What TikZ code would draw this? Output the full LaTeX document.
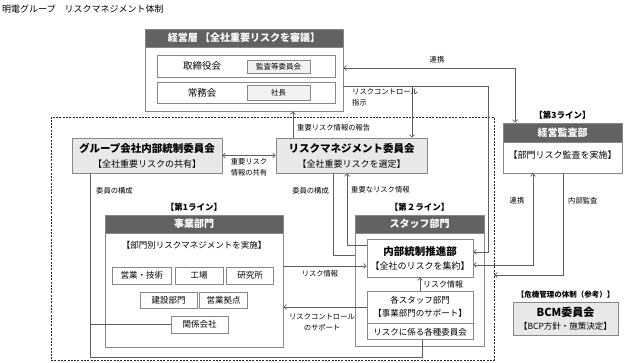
\documentclass[tikz,border=0pt]{standalone}
\usepackage{fontspec}
\setmainfont{Noto Sans CJK JP}
\usetikzlibrary{arrows.meta, positioning}
\definecolor{hdrgray}{RGB}{98,98,98}
\definecolor{boxgray}{RGB}{232,232,232}
\definecolor{subgray}{RGB}{242,242,242}
\definecolor{linegray}{RGB}{95,95,95}
\definecolor{edgegray}{RGB}{135,135,135}

\begin{document}
\begin{tikzpicture}[x=1pt, y=-1pt,
    frame/.style={rectangle, draw=edgegray, fill=white, line width=0.8pt, inner sep=0pt},
    rowbox/.style={rectangle, draw=edgegray, fill=white, line width=0.7pt, inner sep=0pt,
                   minimum width=178pt},
    hdr/.style={rectangle, draw=edgegray, fill=hdrgray, text=white, anchor=north, inner sep=0pt,
                minimum height=18pt, font=\fontsize{10}{12}\selectfont\bfseries},
    comm/.style={rectangle, draw=edgegray, fill=boxgray, line width=0.8pt, align=center,
                 inner sep=0pt, font=\fontsize{9}{15}\selectfont},
    sub/.style={rectangle, draw=edgegray, fill=white, line width=0.6pt, inner sep=0pt,
                minimum height=17pt, font=\fontsize{8.5}{10}\selectfont},
    mini/.style={rectangle, draw=edgegray, fill=subgray, line width=0.6pt, inner sep=0pt,
                 minimum width=63pt, font=\fontsize{7.5}{9}\selectfont},
    dashframe/.style={rectangle, draw=black!85, line width=0.8pt, dash pattern=on 2pt off 1.3pt},
    arrow/.style={-{Straight Barb[length=2.5pt, width=5pt]}, line width=0.7pt, color=linegray},
    biarrow/.style={{Straight Barb[length=2.5pt, width=5pt]}-{Straight Barb[length=2.5pt, width=5pt]},
                    line width=0.7pt, color=linegray},
    link/.style={line width=0.7pt, color=linegray},
    lbl/.style={font=\fontsize{7.3}{11}\selectfont, inner sep=0pt},
    tag/.style={font=\fontsize{8.5}{10}\selectfont\bfseries, inner sep=0pt}
]
\useasboundingbox (0,0) rectangle (624,363);

% --- Title ---
\node[anchor=west, inner sep=0pt, font=\fontsize{9}{10}\selectfont] (title) at (2,9)
    {明電グループ　リスクマネジメント体制};

% --- 1st/2nd line frame ---
\node[dashframe, minimum width=443pt, minimum height=243pt] (lines12) at (272.5,238.5) {};

% --- Management ---
\node[frame, minimum width=198pt, minimum height=82pt] (keiei) at (244,70) {};
\node[hdr, minimum width=198pt] (keieihd) at (keiei.north) {経営層 【全社重要リスクを審議】};
\node[rowbox, minimum height=22pt] (torirow) at (246,66) {};
\node[font=\fontsize{9.5}{10}\selectfont] (torilbl) at (202,66) {取締役会};
\node[mini, minimum height=13pt] (kansa) at (278.5,66.5) {監査等委員会};
\node[rowbox, minimum height=21pt] (jomurow) at (246,92.5) {};
\node[font=\fontsize{9.5}{10}\selectfont] (jomulbl) at (202,92.5) {常務会};
\node[mini, minimum height=15pt] (shacho) at (278.5,92.5) {社長};

% --- Committees ---
\node[comm, minimum width=150pt, minimum height=35pt] (group) at (147,155.5)
    {{\fontsize{10.5}{12}\selectfont\bfseries グループ会社内部統制委員会}\\【全社重要リスクの共有】};
\node[comm, minimum width=151pt, minimum height=35pt] (rm) at (351.5,155.5)
    {{\fontsize{10.5}{12}\selectfont\bfseries リスクマネジメント委員会}\\【全社重要リスクを選定】};

% --- Internal audit (3rd line) ---
\node[frame, minimum width=119pt, minimum height=50pt] (audit) at (562.5,148) {};
\node[hdr, minimum width=119pt, minimum height=19pt] (audhd) at (audit.north) {経営監査部};
\node[font=\fontsize{9}{10}\selectfont, inner sep=0pt, below=9pt of audhd] (audtxt) {【部門リスク監査を実施】};
\node[tag, above=3pt of audhd] (line3) {【第3ライン】};

% --- Business divisions (1st line) ---
\node[frame, minimum width=178pt, minimum height=132pt] (biz) at (194,281) {};
\node[hdr, minimum width=178pt] (bizhd) at (biz.north) {事業部門};
\node[tag, above=3pt of bizhd] (line1) {【第1ライン】};
\node[font=\fontsize{8.5}{10}\selectfont, inner sep=0pt, below=8pt of bizhd] (biztxt)
    {【部門別リスクマネジメントを実施】};
\node[sub, minimum width=48pt] (kojo) at (199,275.5) {工場};
\node[sub, minimum width=59pt, left=3pt of kojo] (eigyo) {営業・技術};
\node[sub, minimum width=47pt, right=3pt of kojo] (kenkyu) {研究所};
\node[sub, minimum width=57pt, minimum height=16pt] (kensetsu) at (168.5,300) {建設部門};
\node[sub, minimum width=48pt, minimum height=16pt, right=2pt of kensetsu] (kyoten) {営業拠点};
\node[sub, minimum width=57pt] (kankei) at (199.5,324.5) {関係会社};

% --- Staff divisions (2nd line) ---
\node[frame, minimum width=129pt, minimum height=131pt] (staff) at (419.5,280.5) {};
\node[hdr, minimum width=129pt] (staffhd) at (staff.north) {スタッフ部門};
\node[tag, above=3pt of staffhd] (line2) {【第２ライン】};
\node[frame, fill=white, align=center, minimum width=106pt, minimum height=38pt,
      font=\fontsize{9}{14}\selectfont] (naibu) at (420,258)
    {{\fontsize{10.5}{12}\selectfont\bfseries 内部統制推進部}\\【全社のリスクを集約】};
\node[frame, align=center, minimum width=106pt, minimum height=32pt,
      font=\fontsize{8.5}{13}\selectfont] (kaku) at (420,307) {各スタッフ部門\\【事業部門のサポート】};
\node[frame, minimum width=106pt, minimum height=16pt, font=\fontsize{8.5}{10}\selectfont,
      below=0pt of kaku] (iinkai) {リスクに係る各種委員会};

% --- BCM ---
\node[comm, minimum width=105pt, minimum height=33pt, font=\fontsize{8.5}{13}\selectfont] (bcm) at (565.5,318.5)
    {{\fontsize{11}{12}\selectfont\bfseries BCM委員会}\\【BCP方針・施策決定】};
\node[tag, font=\fontsize{7.5}{9}\selectfont\bfseries, above=3pt of bcm] (kiki) {【危機管理の体制（参考）】};

% --- Connectors ---
\draw[arrow] (rm.north -| 293,0) -- (keiei.south -| 293,0);
\node[lbl, anchor=west] (reportlbl) at (297,128) {重要リスク情報の報告};

\draw[arrow] (keiei.east |- 0,86) -| (488,252) -- (naibu.east |- 0,252);
\draw[arrow] (412,86) -- (rm.north -| 412,0);
\node[lbl, anchor=north west, align=left] (ctrllbl) at (352,88) {リスクコントロール\\指示};

\draw[biarrow] (keiei.east |- 0,68) -| (audhd.north -| 515,0);
\node[lbl] (renkei1) at (437,60) {連携};

\draw[biarrow] (group.east) -- (rm.west);
\node[lbl, align=center] (sharelbl) at (249,167) {重要リスク\\情報の共有};

\draw[link] (group.south -| 90,0) |- (422,357) -- (iinkai.south -| 422,0);
\draw[link] (kankei.west) -- (kankei.west -| 90,0);
\node[lbl, anchor=west] (member1) at (96,191) {委員の構成};

\draw[link] (rm.south -| 333,0) |- (staff.west |- 0,255);
\node[lbl, anchor=east] (member2) at (329,191) {委員の構成};

\draw[arrow] (naibu.west |- 0,245) -| (rm.south -| 347,0);
\node[lbl, anchor=west] (keylbl) at (351,190) {重要なリスク情報};

\draw[arrow] (biz.east |- 0,266) -- (naibu.west |- 0,266);
\node[lbl] (infolbl) at (320,274) {リスク情報};

\draw[arrow] (kaku.west) -- (biz.east |- kaku.west);
\node[lbl, align=center] (supportlbl) at (322,322) {リスクコントロール\\のサポート};

\draw[arrow] (kaku.north) -- (naibu.south);
\node[lbl, font=\fontsize{8}{10}\selectfont, anchor=west] (info2lbl) at (423,284) {リスク情報};

\draw[biarrow] (audit.south -| 533,0) |- (naibu.east |- 0,265);
\node[lbl] (renkei2) at (517,201) {連携};

\draw[arrow] (audit.south -| 563,0) |- (lines12.east |- 0,275);
\node[lbl, anchor=west] (auditlbl) at (568,201) {内部監査};

\end{tikzpicture}
\end{document}
